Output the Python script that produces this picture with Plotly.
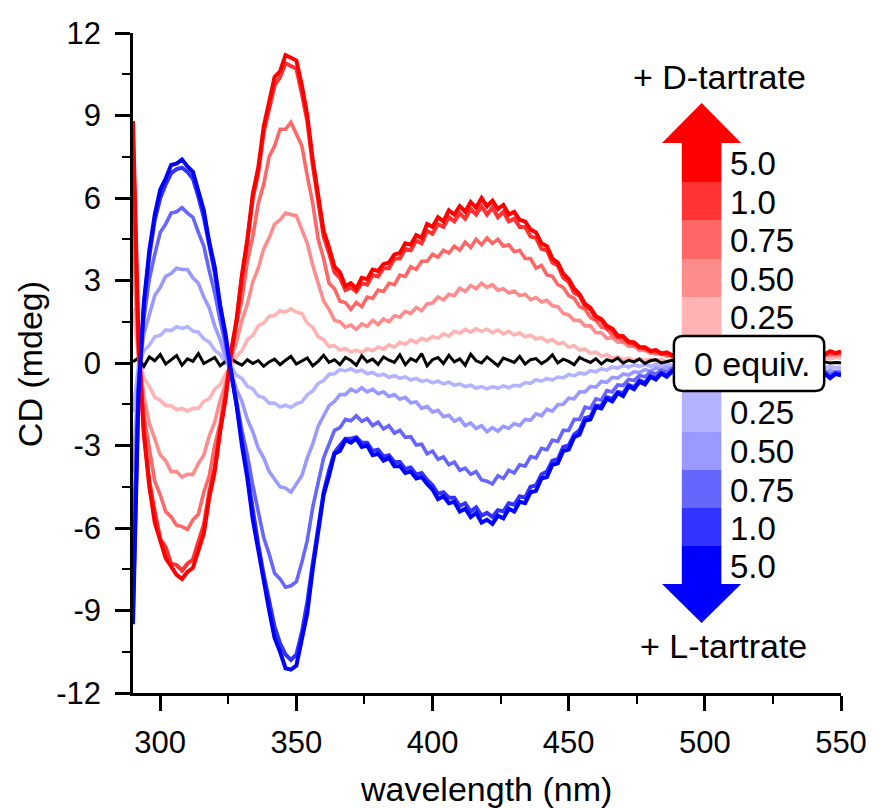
import plotly.graph_objects as go

# ---------------- data ----------------
wavelength = list(range(290, 551, 2))

y_tick_values = [-12, -9, -6, -3, 0, 3, 6, 9, 12]
y_tick_labels = ["-12", "-9", "-6", "-3", "0", "3", "6", "9", "12"]

cd_black = [
    0.05, 0.18, -0.12, 0.22, 0.08,
    0.31, -0.04, 0.12, 0.27, -0.08,
    0.15, 0.06, 0.34, -0.02, 0.1,
    0.2, -0.1, 0.05, 0.16, 0.02,
    -0.08, 0.12, -0.02, 0.09, -0.12,
    0.04, 0.14, -0.06, 0.1, 0.24,
    -0.04, 0.08, 0.18, -0.1, 0.06,
    0.28, 0.02, 0.12, -0.06, 0.2,
    0.09, -0.08, 0.26, 0.04, 0.14,
    -0.05, 0.22, 0.1, 0.02, 0.3,
    -0.06, 0.16, 0.06, 0.34, -0.1,
    0.12, 0.2, -0.02, 0.28, 0.04,
    0.15, -0.08, 0.32, 0.08, 0.0,
    0.22, 0.06, -0.1, 0.18, 0.1,
    0.02, 0.24, -0.04, 0.12, 0.16,
    -0.02, 0.1, 0.3, 0.0, 0.14,
    0.06, -0.06, 0.2, 0.1, 0.02,
    0.16, -0.04, 0.12, 0.06, 0.18,
    0.0, 0.1, 0.04, 0.14, -0.02,
    0.08, 0.12, 0.0, 0.06, 0.1,
    0.02, 0.08, -0.02, 0.06, 0.03,
    0.05, -0.01, 0.04, 0.0, 0.06,
    0.02, -0.02, 0.05, 0.01, 0.04,
    -0.01, 0.03, 0.0, 0.05, -0.02,
    0.02, 0.04, 0.0, 0.03, -0.01,
    0.02, 0.01, 0.04, 0.0, 0.02,
    0.01,
]

cd_D_5_0 = [
    8.8, 0.9, -2.6, -4.5, -5.8,
    -6.5, -7.1, -7.4, -7.7, -7.85,
    -7.6, -7.45, -6.8, -6.2, -4.9,
    -3.95, -2.5, -1.3, 0.35, 1.55,
    3.2, 4.5, 6.15, 7.1, 8.6,
    9.5, 10.4, 10.6, 11.2, 11.1,
    11.0, 10.1, 9.0, 7.4, 6.1,
    4.8, 4.2, 3.5, 3.3, 2.8,
    2.9, 2.7, 3.1, 3.05, 3.4,
    3.35, 3.6, 3.65, 3.95, 4.0,
    4.35, 4.3, 4.65, 4.55, 5.05,
    4.95, 5.3, 5.15, 5.55, 5.4,
    5.7, 5.5, 5.85, 5.65, 6.0,
    5.7, 5.9, 5.6, 5.75, 5.4,
    5.5, 5.2, 5.15, 4.85, 4.75,
    4.35, 4.25, 3.8, 3.65, 3.25,
    3.05, 2.7, 2.5, 2.15, 2.0,
    1.7, 1.6, 1.35, 1.25, 1.0,
    0.98, 0.78, 0.75, 0.58, 0.57,
    0.44, 0.47, 0.35, 0.39, 0.28,
    0.33, 0.22, 0.3, 0.2, 0.27,
    0.17, 0.26, 0.16, 0.24, 0.18,
    0.2, 0.2, 0.23, 0.22, 0.24,
    0.19, 0.28, 0.18, 0.29, 0.22,
    0.31, 0.23, 0.33, 0.25, 0.35,
    0.28, 0.38, 0.31, 0.43, 0.36,
    0.42,
]

cd_D_1_0 = [
    8.2, 0.6, -2.5, -4.3, -5.4,
    -6.4, -6.7, -7.3, -7.35, -7.55,
    -7.3, -7.15, -6.5, -5.9, -4.7,
    -3.8, -2.4, -1.2, 0.4, 1.5,
    3.1, 4.4, 6.0, 6.9, 8.4,
    9.2, 10.1, 10.4, 10.9, 10.8,
    10.7, 9.8, 8.8, 7.2, 6.0,
    4.6, 4.0, 3.3, 3.1, 2.65,
    2.75, 2.6, 2.9, 2.85, 3.2,
    3.15, 3.45, 3.45, 3.8, 3.8,
    4.15, 4.1, 4.45, 4.35, 4.8,
    4.7, 5.05, 4.95, 5.3, 5.15,
    5.45, 5.25, 5.6, 5.4, 5.7,
    5.4, 5.65, 5.3, 5.5, 5.15,
    5.25, 4.95, 4.95, 4.6, 4.55,
    4.15, 4.1, 3.65, 3.55, 3.1,
    2.95, 2.55, 2.45, 2.05, 1.95,
    1.6, 1.55, 1.25, 1.2, 0.92,
    0.95, 0.72, 0.73, 0.55, 0.55,
    0.42, 0.45, 0.33, 0.37, 0.26,
    0.3, 0.2, 0.28, 0.18, 0.25,
    0.15, 0.24, 0.14, 0.22, 0.16,
    0.19, 0.18, 0.21, 0.2, 0.22,
    0.17, 0.26, 0.16, 0.27, 0.2,
    0.29, 0.21, 0.31, 0.23, 0.33,
    0.26, 0.36, 0.29, 0.41, 0.34,
    0.4,
]

cd_D_0_75 = [
    6.0, 0.4, -1.9, -3.2, -4.3,
    -4.8, -5.4, -5.6, -5.9, -5.95,
    -6.05, -5.7, -5.5, -4.7, -4.1,
    -3.0, -2.2, -0.9, 0.1, 1.4,
    2.3, 3.7, 4.6, 5.8, 6.5,
    7.5, 7.9, 8.5, 8.5, 8.75,
    8.3, 7.9, 6.8, 5.8, 4.5,
    3.8, 2.9, 2.7, 2.25, 2.2,
    1.95, 2.2, 2.05, 2.4, 2.35,
    2.65, 2.6, 2.9, 2.85, 3.2,
    3.15, 3.5, 3.4, 3.7, 3.7,
    3.95, 3.85, 4.1, 4.0, 4.25,
    4.1, 4.4, 4.2, 4.5, 4.3,
    4.55, 4.35, 4.5, 4.25, 4.3,
    4.05, 4.1, 3.8, 3.8, 3.45,
    3.55, 3.2, 3.15, 2.85, 2.75,
    2.45, 2.35, 2.05, 1.95, 1.65,
    1.55, 1.3, 1.25, 1.0, 0.97,
    0.78, 0.77, 0.6, 0.6, 0.45,
    0.45, 0.33, 0.36, 0.25, 0.29,
    0.2, 0.25, 0.16, 0.22, 0.14,
    0.2, 0.13, 0.19, 0.12, 0.18,
    0.14, 0.2, 0.13, 0.19, 0.16,
    0.21, 0.15, 0.22, 0.17, 0.24,
    0.19, 0.26, 0.21, 0.28, 0.24,
    0.3, 0.26, 0.33, 0.29, 0.35,
    0.32,
]

cd_D_0_50 = [
    4.0, 0.3, -1.2, -2.2, -2.75,
    -3.35, -3.55, -3.95, -3.95, -4.15,
    -4.05, -4.05, -3.65, -3.35, -2.65,
    -2.15, -1.35, -0.75, 0.15, 0.75,
    1.55, 2.15, 2.95, 3.45, 4.15,
    4.55, 5.05, 5.2, 5.45, 5.4,
    5.35, 4.85, 4.35, 3.55, 2.95,
    2.25, 1.95, 1.55, 1.5, 1.3,
    1.38, 1.22, 1.42, 1.33, 1.55,
    1.4, 1.6, 1.5, 1.72, 1.67,
    1.88, 1.8, 2.02, 1.9, 2.15,
    2.18, 2.4, 2.3, 2.5, 2.45,
    2.72, 2.6, 2.82, 2.7, 2.9,
    2.75, 2.85, 2.65, 2.7, 2.55,
    2.62, 2.45, 2.5, 2.3, 2.38,
    2.22, 2.28, 2.08, 2.05, 1.8,
    1.75, 1.55, 1.55, 1.35, 1.35,
    1.1, 1.1, 0.9, 0.92, 0.76,
    0.76, 0.6, 0.62, 0.45, 0.49,
    0.35, 0.4, 0.3, 0.32, 0.22,
    0.24, 0.15, 0.21, 0.13, 0.19,
    0.12, 0.18, 0.11, 0.17, 0.12,
    0.17, 0.11, 0.18, 0.13, 0.19,
    0.14, 0.2, 0.15, 0.22, 0.17,
    0.23, 0.19, 0.25, 0.21, 0.27,
    0.22, 0.29, 0.25, 0.31, 0.27,
    0.3,
]

cd_D_0_25 = [
    2.0, 0.2, -0.55, -0.85, -1.25,
    -1.35, -1.55, -1.55, -1.7, -1.65,
    -1.75, -1.65, -1.65, -1.4, -1.3,
    -0.95, -0.8, -0.4, -0.15, 0.25,
    0.45, 0.85, 1.0, 1.35, 1.45,
    1.7, 1.72, 1.9, 1.85, 1.97,
    1.85, 1.8, 1.45, 1.3, 0.95,
    0.85, 0.6, 0.63, 0.47, 0.53,
    0.4, 0.47, 0.38, 0.52, 0.45,
    0.58, 0.5, 0.66, 0.58, 0.75,
    0.68, 0.84, 0.74, 0.9, 0.82,
    0.96, 0.9, 1.06, 0.98, 1.15,
    1.08, 1.22, 1.12, 1.25, 1.15,
    1.23, 1.1, 1.2, 1.06, 1.15,
    1.02, 1.1, 0.95, 1.01, 0.87,
    0.93, 0.78, 0.85, 0.7, 0.75,
    0.58, 0.63, 0.47, 0.51, 0.35,
    0.4, 0.25, 0.31, 0.17, 0.24,
    0.12, 0.18, 0.09, 0.15, 0.08,
    0.14, 0.07, 0.13, 0.06, 0.12,
    0.07, 0.13, 0.06, 0.12, 0.08,
    0.13, 0.07, 0.12, 0.06, 0.11,
    0.08, 0.13, 0.07, 0.12, 0.09,
    0.14, 0.08, 0.13, 0.09, 0.15,
    0.1, 0.16, 0.11, 0.17, 0.12,
    0.18, 0.13, 0.19, 0.15, 0.21,
    0.18,
]

cd_L_5_0 = [
    -9.5, -1.2, 2.2, 4.1, 5.4,
    6.3, 6.7, 7.2, 7.25, 7.4,
    7.15, 6.95, 6.25, 5.55, 4.4,
    3.5, 2.1, 1.05, -0.35, -1.5,
    -3.0, -4.2, -5.7, -6.8, -8.1,
    -9.0, -10.0, -10.5, -11.1, -11.15,
    -11.0, -10.1, -9.1, -7.5, -6.2,
    -4.8, -4.1, -3.3, -3.2, -2.8,
    -2.9, -2.75, -3.05, -3.0, -3.35,
    -3.3, -3.55, -3.45, -3.75, -3.75,
    -4.0, -3.95, -4.2, -4.15, -4.4,
    -4.6, -4.95, -4.85, -5.1, -5.05,
    -5.4, -5.3, -5.6, -5.45, -5.8,
    -5.7, -5.85, -5.55, -5.65, -5.3,
    -5.4, -5.05, -5.1, -4.7, -4.65,
    -4.2, -4.15, -3.7, -3.65, -3.2,
    -3.15, -2.7, -2.6, -2.1, -2.05,
    -1.6, -1.65, -1.3, -1.4, -1.1,
    -1.2, -0.85, -0.95, -0.68, -0.78,
    -0.5, -0.6, -0.38, -0.5, -0.3,
    -0.4, -0.25, -0.38, -0.22, -0.35,
    -0.2, -0.33, -0.22, -0.35, -0.2,
    -0.32, -0.22, -0.36, -0.25, -0.38,
    -0.24, -0.4, -0.27, -0.42, -0.3,
    -0.45, -0.3, -0.48, -0.33, -0.5,
    -0.35, -0.52, -0.38, -0.55, -0.4,
    -0.45,
]

cd_L_1_0 = [
    -9.0, -1.0, 2.1, 3.9, 5.2,
    6.0, 6.5, 6.9, 7.05, 7.1,
    6.95, 6.7, 6.05, 5.3, 4.3,
    3.3, 2.05, 0.95, -0.3, -1.5,
    -2.8, -4.1, -5.4, -6.6, -7.7,
    -8.7, -9.6, -10.2, -10.6, -10.8,
    -10.6, -9.8, -8.7, -7.3, -5.9,
    -4.7, -3.9, -3.25, -3.0, -2.75,
    -2.75, -2.7, -2.9, -2.9, -3.2,
    -3.15, -3.4, -3.35, -3.6, -3.6,
    -3.85, -3.8, -4.05, -4.0, -4.25,
    -4.45, -4.75, -4.7, -4.9, -4.9,
    -5.2, -5.1, -5.4, -5.25, -5.55,
    -5.45, -5.6, -5.35, -5.4, -5.1,
    -5.15, -4.85, -4.9, -4.5, -4.45,
    -4.05, -3.95, -3.55, -3.5, -3.05,
    -3.0, -2.6, -2.45, -2.0, -1.95,
    -1.55, -1.55, -1.25, -1.3, -1.05,
    -1.1, -0.8, -0.88, -0.63, -0.72,
    -0.47, -0.55, -0.36, -0.46, -0.28,
    -0.37, -0.23, -0.35, -0.2, -0.32,
    -0.18, -0.3, -0.2, -0.32, -0.18,
    -0.3, -0.2, -0.33, -0.23, -0.35,
    -0.22, -0.37, -0.25, -0.39, -0.28,
    -0.42, -0.28, -0.45, -0.31, -0.47,
    -0.33, -0.49, -0.36, -0.52, -0.38,
    -0.42,
]

cd_L_0_75 = [
    -6.5, -0.8, 1.6, 3.05, 3.95,
    4.75, 5.05, 5.45, 5.5, 5.65,
    5.45, 5.3, 4.75, 4.25, 3.35,
    2.55, 1.55, 0.65, -0.45, -1.35,
    -2.45, -3.35, -4.45, -5.35, -6.35,
    -6.95, -7.65, -7.85, -8.15, -8.1,
    -7.95, -7.25, -6.45, -5.25, -4.35,
    -3.45, -2.95, -2.45, -2.35, -2.05,
    -2.1, -1.92, -2.12, -2.02, -2.28,
    -2.15, -2.4, -2.28, -2.55, -2.45,
    -2.7, -2.68, -2.98, -2.95, -3.3,
    -3.2, -3.5, -3.42, -3.7, -3.6,
    -3.9, -3.82, -4.05, -3.95, -4.25,
    -4.3, -4.4, -4.1, -4.2, -3.9,
    -4.0, -3.7, -3.75, -3.4, -3.45,
    -3.1, -3.15, -2.8, -2.85, -2.45,
    -2.45, -2.05, -2.05, -1.6, -1.65,
    -1.3, -1.35, -1.0, -1.05, -0.8,
    -0.82, -0.6, -0.64, -0.45, -0.5,
    -0.33, -0.4, -0.26, -0.33, -0.2,
    -0.28, -0.17, -0.27, -0.15, -0.25,
    -0.14, -0.24, -0.15, -0.26, -0.14,
    -0.25, -0.16, -0.27, -0.18, -0.29,
    -0.17, -0.3, -0.2, -0.32, -0.22,
    -0.34, -0.23, -0.36, -0.25, -0.38,
    -0.27, -0.4, -0.3, -0.42, -0.32,
    -0.35,
]

cd_L_0_50 = [
    -4.0, -0.4, 1.05, 1.75, 2.45,
    2.75, 3.15, 3.25, 3.45, 3.4,
    3.4, 3.1, 2.9, 2.4, 2.0,
    1.35, 0.85, 0.2, -0.3, -0.95,
    -1.4, -2.05, -2.5, -3.1, -3.45,
    -3.95, -4.2, -4.5, -4.55, -4.7,
    -4.4, -4.1, -3.45, -2.95, -2.3,
    -1.95, -1.55, -1.4, -1.15, -1.15,
    -0.95, -1.05, -0.9, -1.05, -0.95,
    -1.12, -1.05, -1.22, -1.15, -1.32,
    -1.25, -1.45, -1.42, -1.65, -1.58,
    -1.78, -1.72, -1.95, -1.9, -2.12,
    -2.02, -2.28, -2.18, -2.38, -2.28,
    -2.5, -2.35, -2.48, -2.3, -2.38,
    -2.2, -2.28, -2.05, -2.08, -1.85,
    -1.92, -1.68, -1.75, -1.52, -1.5,
    -1.28, -1.3, -1.05, -1.05, -0.85,
    -0.88, -0.67, -0.7, -0.52, -0.55,
    -0.4, -0.44, -0.32, -0.35, -0.24,
    -0.29, -0.18, -0.24, -0.16, -0.21,
    -0.14, -0.22, -0.13, -0.21, -0.12,
    -0.2, -0.11, -0.19, -0.12, -0.21,
    -0.13, -0.22, -0.14, -0.23, -0.15,
    -0.24, -0.16, -0.25, -0.17, -0.27,
    -0.19, -0.28, -0.2, -0.3, -0.22,
    -0.31, -0.24, -0.33, -0.25, -0.34,
    -0.28,
]

cd_L_0_25 = [
    -1.8, -0.1, 0.45, 0.65, 0.95,
    1.0, 1.2, 1.18, 1.32, 1.26,
    1.32, 1.16, 1.12, 0.88, 0.76,
    0.46, 0.32, 0.0, -0.14, -0.45,
    -0.56, -0.85, -0.94, -1.2, -1.26,
    -1.46, -1.46, -1.6, -1.53, -1.62,
    -1.48, -1.42, -1.16, -1.02, -0.74,
    -0.64, -0.41, -0.39, -0.24, -0.29,
    -0.21, -0.32, -0.26, -0.39, -0.34,
    -0.46, -0.41, -0.52, -0.46, -0.56,
    -0.51, -0.62, -0.56, -0.67, -0.62,
    -0.72, -0.66, -0.76, -0.7, -0.81,
    -0.76, -0.86, -0.81, -0.92, -0.86,
    -0.94, -0.86, -0.92, -0.83, -0.9,
    -0.81, -0.84, -0.71, -0.74, -0.61,
    -0.66, -0.56, -0.62, -0.51, -0.54,
    -0.42, -0.47, -0.36, -0.4, -0.28,
    -0.32, -0.21, -0.26, -0.14, -0.19,
    -0.09, -0.15, -0.07, -0.13, -0.06,
    -0.12, -0.05, -0.11, -0.04, -0.1,
    -0.05, -0.11, -0.04, -0.1, -0.06,
    -0.11, -0.05, -0.1, -0.04, -0.09,
    -0.06, -0.11, -0.05, -0.1, -0.07,
    -0.12, -0.06, -0.11, -0.07, -0.13,
    -0.08, -0.14, -0.09, -0.15, -0.1,
    -0.16, -0.11, -0.17, -0.12, -0.18,
    -0.15,
]

equiv_labels = ["0.25", "0.50", "0.75", "1.0", "5.0"]
red_colors = ["#FFB3B3", "#FF8C8C", "#FF6666", "#FF3333", "#FF0000"]
blue_colors = ["#B3B3FF", "#9999FF", "#6666FF", "#3333FF", "#0000FF"]

red_series = [cd_D_0_25, cd_D_0_50, cd_D_0_75, cd_D_1_0, cd_D_5_0]
blue_series = [cd_L_0_25, cd_L_0_50, cd_L_0_75, cd_L_1_0, cd_L_5_0]

FONT = "Liberation Sans, Arial, sans-serif"

fig = go.Figure()


def add_line(y, color, width=3.6):
    fig.add_trace(go.Scatter(x=wavelength, y=y, mode="lines",
                             line=dict(color=color, width=width),
                             showlegend=False, hoverinfo="skip"))


# drawing order: lightest first, black, then stronger
add_line(red_series[0], red_colors[0])
add_line(blue_series[0], blue_colors[0])
add_line(cd_black, "#000000", 3)
for i in range(1, 5):
    w = 4 if i >= 3 else 3.6
    add_line(red_series[i], red_colors[i], w)
    add_line(blue_series[i], blue_colors[i], w)

# ---------------- layout ----------------
L, R, T, B = 133, 849, 33, 693
W, H = 879, 808


def px(x):
    return (x - L) / (R - L)


def py(y):
    return (B - y) / (B - T)


axis_common = dict(
    showline=True, linecolor="black", linewidth=2.5,
    ticks="outside", ticklen=15, tickwidth=2.5, tickcolor="black",
    showgrid=False, zeroline=False, mirror=False,
    tickfont=dict(family=FONT, size=31, color="black"),
)

fig.update_layout(
    width=W, height=H,
    margin=dict(l=L, r=W - R, t=T, b=H - B),
    plot_bgcolor="white", paper_bgcolor="white",
    showlegend=False,
    font=dict(family=FONT, color="black"),
    xaxis=dict(range=[290, 550], dtick=50, tick0=300,
               minor=dict(ticks="outside", ticklen=8, tickwidth=2,
                          tickcolor="black", dtick=25, tick0=300),
               ticklabelstandoff=5, **axis_common),
    yaxis=dict(range=[-12, 12], tickmode="array",
               tickvals=y_tick_values, ticktext=y_tick_labels,
               minor=dict(ticks="outside", ticklen=8, tickwidth=2,
                          tickcolor="black", dtick=1.5, tick0=0),
               ticklabelstandoff=8, **axis_common),
)

shapes = []
annotations = []

# axis titles
annotations.append(dict(text="wavelength (nm)", xref="paper", yref="paper",
                        x=px(490), y=py(789), xanchor="center", yanchor="middle",
                        showarrow=False, font=dict(family=FONT, size=34)))
annotations.append(dict(text="CD (mdeg)", xref="paper", yref="paper",
                        x=px(29), y=py(364), xanchor="center", yanchor="middle",
                        textangle=-90, showarrow=False,
                        font=dict(family=FONT, size=34)))

# legend arrow (red up / blue down)
sx0, sx1 = 688, 728
red_edges = [340, 297, 259, 220, 182, 143]   # 0.25 .. 5.0 (bottom->top)
blue_edges = [386, 432, 470, 508, 546, 584]  # 0.25 .. 5.0 (top->bottom)
for i in range(5):
    shapes.append(dict(type="rect", xref="paper", yref="paper",
                       x0=px(sx0), x1=px(sx1), y0=py(red_edges[i]), y1=py(red_edges[i + 1]),
                       fillcolor=red_colors[i], line=dict(width=0), layer="above"))
    shapes.append(dict(type="rect", xref="paper", yref="paper",
                       x0=px(sx0), x1=px(sx1), y0=py(blue_edges[i]), y1=py(blue_edges[i + 1]),
                       fillcolor=blue_colors[i], line=dict(width=0), layer="above"))
    red_mid = (red_edges[i] + red_edges[i + 1]) / 2 if i > 0 else (297 + 336) / 2
    blue_mid = (blue_edges[i] + blue_edges[i + 1]) / 2 if i > 0 else (391 + 432) / 2
    annotations.append(dict(text=equiv_labels[i], xref="paper", yref="paper",
                            x=px(735), y=py(red_mid + 1), xanchor="left", yanchor="middle",
                            showarrow=False, font=dict(family=FONT, size=33)))
    annotations.append(dict(text=equiv_labels[i], xref="paper", yref="paper",
                            x=px(735), y=py(blue_mid + 1), xanchor="left", yanchor="middle",
                            showarrow=False, font=dict(family=FONT, size=33)))

# arrow heads
shapes.append(dict(type="path", xref="paper", yref="paper",
                   path=f"M {px(668)},{py(143)} L {px(748)},{py(143)} L {px(708)},{py(103)} Z",
                   fillcolor="#FF0000", line=dict(width=0), layer="above"))
shapes.append(dict(type="path", xref="paper", yref="paper",
                   path=f"M {px(668)},{py(584)} L {px(748)},{py(584)} L {px(708)},{py(623)} Z",
                   fillcolor="#0000FF", line=dict(width=0), layer="above"))

# rounded "0 equiv." box
bx0, bx1, by0, by1, r = 680, 832, 336, 391, 9
path = (f"M {px(bx0 + r)},{py(by0)} L {px(bx1 - r)},{py(by0)} "
        f"Q {px(bx1)},{py(by0)} {px(bx1)},{py(by0 + r)} "
        f"L {px(bx1)},{py(by1 - r)} Q {px(bx1)},{py(by1)} {px(bx1 - r)},{py(by1)} "
        f"L {px(bx0 + r)},{py(by1)} Q {px(bx0)},{py(by1)} {px(bx0)},{py(by1 - r)} "
        f"L {px(bx0)},{py(by0 + r)} Q {px(bx0)},{py(by0)} {px(bx0 + r)},{py(by0)} Z")
shapes.append(dict(type="path", xref="paper", yref="paper", path=path,
                   fillcolor="white", line=dict(color="black", width=2.5), layer="above"))
annotations.append(dict(text="0 equiv.", xref="paper", yref="paper",
                        x=px(759), y=py(364), xanchor="center", yanchor="middle",
                        showarrow=False, font=dict(family=FONT, size=34)))

annotations.append(dict(text="+ D-tartrate", xref="paper", yref="paper",
                        x=px(726), y=py(77), xanchor="center", yanchor="middle",
                        showarrow=False, font=dict(family=FONT, size=34)))
annotations.append(dict(text="+ L-tartrate", xref="paper", yref="paper",
                        x=px(730), y=py(646), xanchor="center", yanchor="middle",
                        showarrow=False, font=dict(family=FONT, size=34)))

fig.update_layout(shapes=shapes, annotations=annotations)

fig.write_html("out.html")
